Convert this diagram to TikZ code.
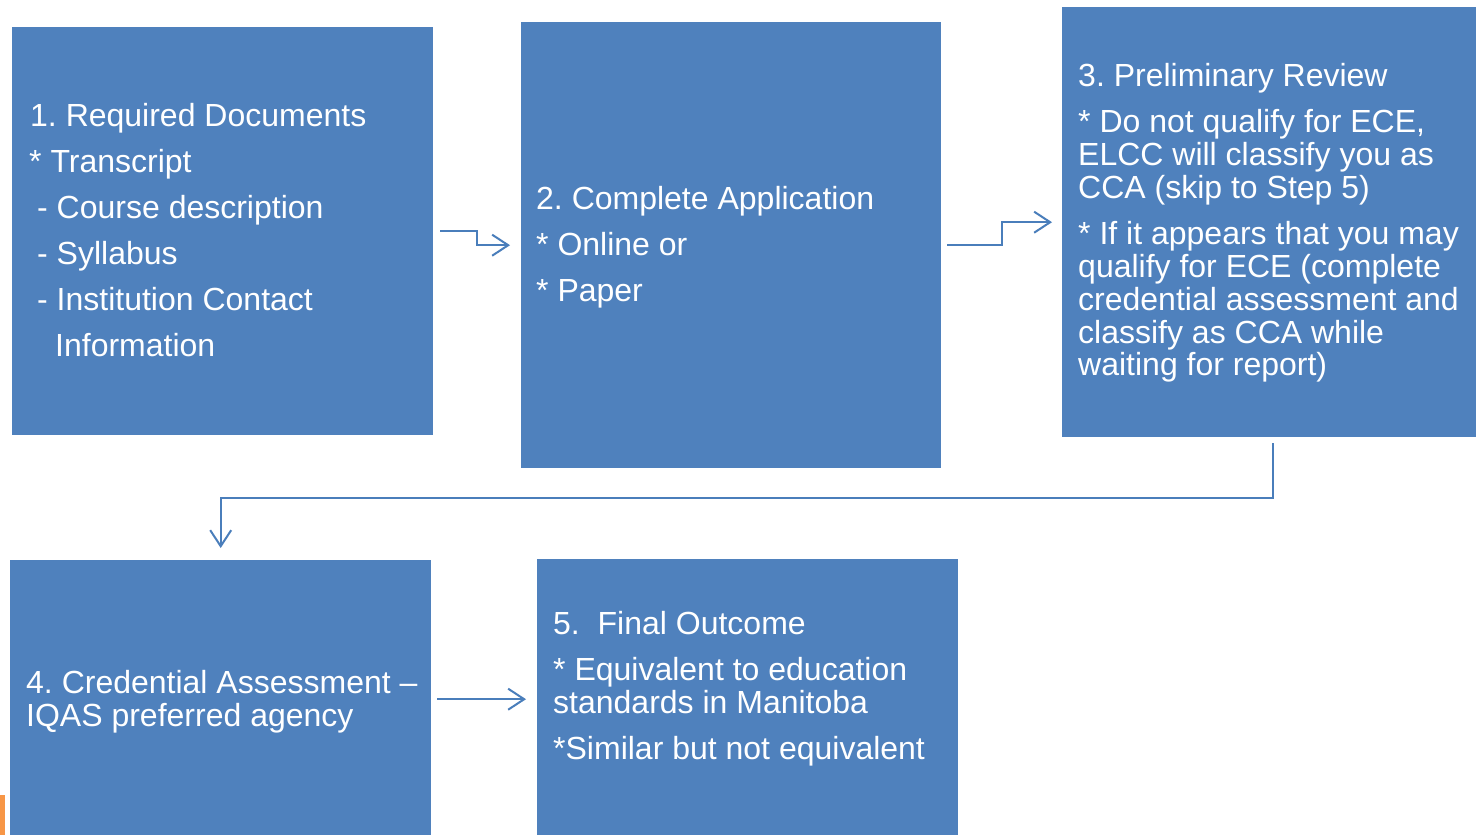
\documentclass[tikz,border=0pt]{standalone}
\usepackage{fontspec}
\setmainfont{Liberation Sans}
\usetikzlibrary{arrows.meta}
\definecolor{boxblue}{HTML}{4F81BD}
\definecolor{lineblue}{HTML}{4A7EBB}
\definecolor{accent}{HTML}{F79646}
\tikzset{
  stepbox/.style={fill=boxblue, draw=none, inner sep=0pt, anchor=north west},
  txt/.style={anchor=base west, inner sep=0pt, text=white, font=\fontsize{32}{38}\selectfont\frenchspacing},
  arr/.style={draw=lineblue, line width=2pt, -{Straight Barb[length=16pt,width=21pt,line width=2pt]}}
}
\begin{document}
\begin{tikzpicture}[x=1pt,y=-1pt]
\useasboundingbox (0,0) rectangle (1476,835);
\fill[white] (0,0) rectangle (1476,835);
% boxes
\node[stepbox, minimum width=421pt, minimum height=408pt] (b1) at (12,27) {};
\node[stepbox, minimum width=420pt, minimum height=446pt] (b2) at (521,22) {};
\node[stepbox, minimum width=414pt, minimum height=430pt] (b3) at (1062,7) {};
\node[stepbox, minimum width=421pt, minimum height=275pt] (b4) at (10,560) {};
\node[stepbox, minimum width=421pt, minimum height=276pt] (b5) at (537,559) {};
\fill[accent] (0,795) rectangle (5,835);
% box 1 text
\node[txt] (t11) at (30,126) {1. Required Documents};
\node[txt] (t12) at (29,172) {* Transcript};
\node[txt] (t13) at (37,218) {- Course description};
\node[txt] (t14) at (37,264) {- Syllabus};
\node[txt] (t15) at (37,310) {- Institution Contact};
\node[txt] (t16) at (55,356) {Information};
% box 2 text
\node[txt] (t21) at (536,209) {2. Complete Application};
\node[txt] (t22) at (536,255) {* Online or};
\node[txt] (t23) at (536,301) {* Paper};
% box 3 text
\node[txt] (t31) at (1078,86) {3. Preliminary Review};
\node[txt] (t32) at (1078,132) {* Do not qualify for ECE,};
\node[txt] (t33) at (1078,165) {ELCC will classify you as};
\node[txt] (t34) at (1078,198) {CCA (skip to Step 5)};
\node[txt] (t35) at (1078,244) {* If it appears that you may};
\node[txt] (t36) at (1078,277) {qualify for ECE (complete};
\node[txt] (t37) at (1078,310) {credential assessment and};
\node[txt] (t38) at (1078,343) {classify as CCA while};
\node[txt] (t39) at (1078,375) {waiting for report)};
% box 4 text
\node[txt] (t41) at (26,693) {4. Credential Assessment --};
\node[txt] (t42) at (26,726) {IQAS preferred agency};
% box 5 text
\node[txt] (t51) at (553,634) {5.\ \ Final Outcome};
\node[txt] (t52) at (553,680) {* Equivalent to education};
\node[txt] (t53) at (553,713) {standards in Manitoba};
\node[txt] (t54) at (553,759) {*Similar but not equivalent};
% connectors
\draw[arr] ([xshift=7pt]b1.east) -- ++(37,0) |- ([xshift=-11pt]b2.west);
\draw[arr] ([xshift=6pt]b2.east) -- ++(55,0) |- ([xshift=-10pt]b3.west);
\draw[arr] ([xshift=4pt,yshift=-6pt]b3.south) -- ++(0,55) -| ([yshift=12pt]b4.north);
\draw[arr] ([xshift=6pt,yshift=-1.5pt]b4.east) -- ([xshift=-11pt,yshift=-2pt]b5.west);
\end{tikzpicture}
\end{document}
